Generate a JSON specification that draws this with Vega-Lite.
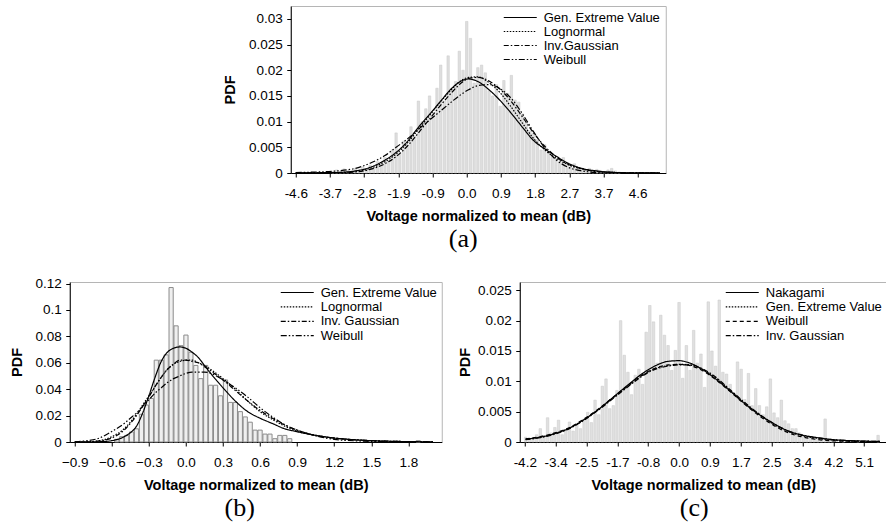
{
  "$schema": "https://vega.github.io/schema/vega-lite/v6.json",
  "background": "white",
  "padding": {"left": 8.5, "top": 5, "right": 0, "bottom": 0},
  "config": {
    "view": {"stroke": "#b5b5b5", "strokeWidth": 1},
    "font": "Liberation Sans",
    "axis": {"domainColor": "#000", "domainWidth": 1, "tickColor": "#000", "tickWidth": 1, "tickSize": 4, "labelColor": "#000", "labelFont": "Liberation Sans", "labelFontSize": 13.5, "titleFont": "Liberation Sans", "titleFontSize": 14.5, "titleFontWeight": "bold", "titleColor": "#000", "grid": false, "labelOverlap": false, "labelFlush": false, "labelBound": false, "zindex": 1},
    "axisX": {"labelPadding": 9.5, "titlePadding": 9.5},
    "axisY": {"labelPadding": 4.5, "titlePadding": 11},
    "legend": {"title": null, "orient": "top-right", "offset": 4, "padding": 0, "symbolType": "M-3.3,0H3.3", "symbolSize": 100, "symbolStrokeWidth": 1.2, "symbolStrokeColor": "#000", "symbolFillColor": "transparent", "labelFont": "Liberation Sans", "labelFontSize": 13, "labelColor": "#000", "rowPadding": 0.4, "labelOffset": 17},
    "title": {"font": "Liberation Serif", "fontSize": 26, "fontWeight": "normal", "color": "#000", "orient": "bottom", "offset": 3, "frame": "group", "anchor": "middle"}
  },
  "datasets": {
    "histA": [
      {"x":-3.6,"y":0.0003},{"x":-3.5,"y":0.0006},{"x":-3.4,"y":0.0002},{"x":-3.3,"y":0.0008},{"x":-3.2,"y":0.0005},{"x":-3.1,"y":0.0004},{"x":-3.0,"y":0.0009},{"x":-2.9,"y":0.0006},{"x":-2.8,"y":0.0012},{"x":-2.7,"y":0.0008},{"x":-2.6,"y":0.0015},{"x":-2.5,"y":0.0011},{"x":-2.4,"y":0.0022},{"x":-2.3,"y":0.0018},{"x":-2.2,"y":0.003},{"x":-2.1,"y":0.0024},{"x":-2.0,"y":0.0045},{"x":-1.9,"y":0.0078},{"x":-1.8,"y":0.004},{"x":-1.7,"y":0.0062},{"x":-1.6,"y":0.0055},{"x":-1.5,"y":0.009},{"x":-1.4,"y":0.0072},{"x":-1.3,"y":0.014},{"x":-1.2,"y":0.01},{"x":-1.1,"y":0.0125},{"x":-1.0,"y":0.015},{"x":-0.9,"y":0.0118},{"x":-0.8,"y":0.0165},{"x":-0.7,"y":0.021},{"x":-0.6,"y":0.014},{"x":-0.5,"y":0.0228},{"x":-0.4,"y":0.016},{"x":-0.3,"y":0.0178},{"x":-0.2,"y":0.0237},{"x":-0.1,"y":0.02},{"x":0.0,"y":0.0295},{"x":0.1,"y":0.0262},{"x":0.2,"y":0.0175},{"x":0.3,"y":0.0205},{"x":0.4,"y":0.021},{"x":0.5,"y":0.0195},{"x":0.6,"y":0.016},{"x":0.7,"y":0.015},{"x":0.8,"y":0.0172},{"x":0.9,"y":0.013},{"x":1.0,"y":0.018},{"x":1.1,"y":0.0155},{"x":1.2,"y":0.019},{"x":1.3,"y":0.0142},{"x":1.4,"y":0.0138},{"x":1.5,"y":0.0115},{"x":1.6,"y":0.0098},{"x":1.7,"y":0.0082},{"x":1.8,"y":0.0078},{"x":1.9,"y":0.0065},{"x":2.0,"y":0.0045},{"x":2.1,"y":0.0055},{"x":2.2,"y":0.004},{"x":2.3,"y":0.0032},{"x":2.4,"y":0.0028},{"x":2.5,"y":0.0022},{"x":2.6,"y":0.003},{"x":2.7,"y":0.0015},{"x":2.8,"y":0.0012},{"x":2.9,"y":0.0018},{"x":3.0,"y":0.001},{"x":3.1,"y":0.0008},{"x":3.2,"y":0.0006},{"x":3.3,"y":0.0009},{"x":3.4,"y":0.0004},{"x":3.5,"y":0.0007},{"x":3.6,"y":0.0005},{"x":3.7,"y":0.0003},{"x":3.8,"y":0.0006},{"x":3.9,"y":0.0009},{"x":4.0,"y":0.0004},{"x":4.1,"y":0.0002}
    ],
    "fitA": [
      {"x":-4.6,"gev":0.00002,"logn":0,"ig":0,"weib":0.0001},
      {"x":-4.0,"gev":0.00005,"logn":0.00002,"ig":0.00001,"weib":0.0002},
      {"x":-3.5,"gev":0.0001,"logn":0.00008,"ig":0.00005,"weib":0.0004},
      {"x":-3.0,"gev":0.0004,"logn":0.0003,"ig":0.0002,"weib":0.0009},
      {"x":-2.6,"gev":0.0011,"logn":0.0009,"ig":0.0007,"weib":0.0019},
      {"x":-2.2,"gev":0.0025,"logn":0.0022,"ig":0.0018,"weib":0.0034},
      {"x":-1.9,"gev":0.004,"logn":0.0037,"ig":0.0032,"weib":0.005},
      {"x":-1.6,"gev":0.0061,"logn":0.0058,"ig":0.0052,"weib":0.0066},
      {"x":-1.3,"gev":0.0089,"logn":0.0085,"ig":0.0078,"weib":0.0085},
      {"x":-1.0,"gev":0.0114,"logn":0.0112,"ig":0.0105,"weib":0.0103},
      {"x":-0.7,"gev":0.014,"logn":0.0139,"ig":0.0132,"weib":0.0121},
      {"x":-0.4,"gev":0.0165,"logn":0.0163,"ig":0.0157,"weib":0.0139},
      {"x":-0.15,"gev":0.0179,"logn":0.018,"ig":0.0175,"weib":0.0153},
      {"x":0.05,"gev":0.0183,"logn":0.0186,"ig":0.0184,"weib":0.0162},
      {"x":0.3,"gev":0.0178,"logn":0.0187,"ig":0.0186,"weib":0.017},
      {"x":0.6,"gev":0.0162,"logn":0.0176,"ig":0.0179,"weib":0.0172},
      {"x":0.9,"gev":0.0141,"logn":0.0156,"ig":0.0163,"weib":0.0164},
      {"x":1.2,"gev":0.0116,"logn":0.0128,"ig":0.0139,"weib":0.0145},
      {"x":1.5,"gev":0.0089,"logn":0.0097,"ig":0.0109,"weib":0.0115},
      {"x":1.8,"gev":0.0063,"logn":0.0067,"ig":0.0078,"weib":0.008},
      {"x":2.1,"gev":0.0047,"logn":0.0045,"ig":0.0052,"weib":0.0049},
      {"x":2.4,"gev":0.0033,"logn":0.0029,"ig":0.0032,"weib":0.0026},
      {"x":2.7,"gev":0.002,"logn":0.0017,"ig":0.0018,"weib":0.0012},
      {"x":3.1,"gev":0.0009,"logn":0.0008,"ig":0.0008,"weib":0.0004},
      {"x":3.5,"gev":0.0004,"logn":0.0003,"ig":0.0003,"weib":0.0001},
      {"x":4.0,"gev":0.0001,"logn":0.0001,"ig":0.0001,"weib":0},
      {"x":4.6,"gev":0.00003,"logn":0.00002,"ig":0.00002,"weib":0},
      {"x":5.2,"gev":0.00001,"logn":0,"ig":0,"weib":0}
    ],
    "histB": [
      {"x":-0.56,"y":0.002},{"x":-0.52,"y":0.004},{"x":-0.48,"y":0.005},{"x":-0.44,"y":0.0076},{"x":-0.4,"y":0.01},{"x":-0.36,"y":0.021},{"x":-0.32,"y":0.028},{"x":-0.28,"y":0.033},{"x":-0.24,"y":0.062},{"x":-0.2,"y":0.062},{"x":-0.16,"y":0.066},{"x":-0.12,"y":0.117},{"x":-0.08,"y":0.088},{"x":-0.04,"y":0.073},{"x":0.0,"y":0.081},{"x":0.04,"y":0.068},{"x":0.08,"y":0.058},{"x":0.12,"y":0.048},{"x":0.16,"y":0.058},{"x":0.2,"y":0.043},{"x":0.24,"y":0.043},{"x":0.28,"y":0.035},{"x":0.32,"y":0.047},{"x":0.36,"y":0.03},{"x":0.4,"y":0.03},{"x":0.44,"y":0.023},{"x":0.48,"y":0.019},{"x":0.52,"y":0.015},{"x":0.56,"y":0.009},{"x":0.6,"y":0.009},{"x":0.64,"y":0.006},{"x":0.68,"y":0.006},{"x":0.72,"y":0.0025},{"x":0.76,"y":0.005},{"x":0.8,"y":0.005},{"x":0.84,"y":0.0025},{"x":1.88,"y":0.001}
    ],
    "fitB": [
      {"x":-0.9,"gev":0,"logn":0,"ig":0,"weib":0.0002},
      {"x":-0.8,"gev":0,"logn":0.0002,"ig":0.0001,"weib":0.001},
      {"x":-0.7,"gev":0.0002,"logn":0.001,"ig":0.0008,"weib":0.003},
      {"x":-0.6,"gev":0.001,"logn":0.004,"ig":0.003,"weib":0.008},
      {"x":-0.5,"gev":0.004,"logn":0.01,"ig":0.009,"weib":0.014},
      {"x":-0.45,"gev":0.007,"logn":0.015,"ig":0.014,"weib":0.018},
      {"x":-0.4,"gev":0.012,"logn":0.021,"ig":0.02,"weib":0.022},
      {"x":-0.35,"gev":0.022,"logn":0.028,"ig":0.027,"weib":0.027},
      {"x":-0.3,"gev":0.035,"logn":0.035,"ig":0.034,"weib":0.032},
      {"x":-0.25,"gev":0.049,"logn":0.042,"ig":0.042,"weib":0.037},
      {"x":-0.2,"gev":0.061,"logn":0.049,"ig":0.049,"weib":0.041},
      {"x":-0.15,"gev":0.068,"logn":0.055,"ig":0.055,"weib":0.045},
      {"x":-0.1,"gev":0.071,"logn":0.059,"ig":0.059,"weib":0.048},
      {"x":-0.05,"gev":0.072,"logn":0.061,"ig":0.062,"weib":0.05},
      {"x":0.0,"gev":0.071,"logn":0.062,"ig":0.062,"weib":0.052},
      {"x":0.05,"gev":0.068,"logn":0.062,"ig":0.061,"weib":0.053},
      {"x":0.1,"gev":0.064,"logn":0.06,"ig":0.06,"weib":0.053},
      {"x":0.15,"gev":0.058,"logn":0.058,"ig":0.057,"weib":0.053},
      {"x":0.2,"gev":0.052,"logn":0.055,"ig":0.054,"weib":0.052},
      {"x":0.3,"gev":0.041,"logn":0.048,"ig":0.047,"weib":0.047},
      {"x":0.4,"gev":0.031,"logn":0.04,"ig":0.039,"weib":0.041},
      {"x":0.5,"gev":0.023,"logn":0.031,"ig":0.031,"weib":0.034},
      {"x":0.6,"gev":0.018,"logn":0.023,"ig":0.024,"weib":0.026},
      {"x":0.7,"gev":0.014,"logn":0.017,"ig":0.018,"weib":0.019},
      {"x":0.8,"gev":0.01,"logn":0.012,"ig":0.013,"weib":0.013},
      {"x":0.9,"gev":0.0078,"logn":0.008,"ig":0.009,"weib":0.009},
      {"x":1.0,"gev":0.0058,"logn":0.006,"ig":0.006,"weib":0.006},
      {"x":1.2,"gev":0.003,"logn":0.003,"ig":0.003,"weib":0.002},
      {"x":1.4,"gev":0.0015,"logn":0.0015,"ig":0.0015,"weib":0.0008},
      {"x":1.6,"gev":0.0007,"logn":0.0007,"ig":0.0007,"weib":0.0003},
      {"x":1.8,"gev":0.0003,"logn":0.0003,"ig":0.0003,"weib":0.0001},
      {"x":2.0,"gev":0.0001,"logn":0.0001,"ig":0.0001,"weib":0}
    ],
    "histC": [
      {"x":-4.2,"y":0.0008},{"x":-4.1,"y":0.0004},{"x":-4.0,"y":0.0006},{"x":-3.9,"y":0.0012},{"x":-3.8,"y":0.0022},{"x":-3.7,"y":0.0008},{"x":-3.6,"y":0.004},{"x":-3.5,"y":0.0015},{"x":-3.4,"y":0.0024},{"x":-3.3,"y":0.0036},{"x":-3.2,"y":0.0012},{"x":-3.1,"y":0.002},{"x":-3.0,"y":0.0033},{"x":-2.9,"y":0.0018},{"x":-2.8,"y":0.0028},{"x":-2.7,"y":0.0022},{"x":-2.6,"y":0.0038},{"x":-2.5,"y":0.0049},{"x":-2.4,"y":0.0032},{"x":-2.3,"y":0.0069},{"x":-2.2,"y":0.0045},{"x":-2.1,"y":0.0092},{"x":-2.0,"y":0.0104},{"x":-1.9,"y":0.0055},{"x":-1.8,"y":0.006},{"x":-1.7,"y":0.0085},{"x":-1.6,"y":0.02},{"x":-1.5,"y":0.0143},{"x":-1.4,"y":0.0115},{"x":-1.3,"y":0.0078},{"x":-1.2,"y":0.011},{"x":-1.1,"y":0.012},{"x":-1.0,"y":0.0095},{"x":-0.9,"y":0.0181},{"x":-0.8,"y":0.0225},{"x":-0.7,"y":0.0198},{"x":-0.6,"y":0.013},{"x":-0.5,"y":0.0209},{"x":-0.4,"y":0.0176},{"x":-0.3,"y":0.0159},{"x":-0.2,"y":0.0118},{"x":-0.1,"y":0.0151},{"x":0.0,"y":0.023},{"x":0.1,"y":0.0105},{"x":0.2,"y":0.0159},{"x":0.3,"y":0.0118},{"x":0.4,"y":0.0184},{"x":0.5,"y":0.013},{"x":0.6,"y":0.0145},{"x":0.7,"y":0.009},{"x":0.8,"y":0.0231},{"x":0.9,"y":0.015},{"x":1.0,"y":0.0125},{"x":1.1,"y":0.0234},{"x":1.2,"y":0.0115},{"x":1.3,"y":0.0112},{"x":1.4,"y":0.0095},{"x":1.5,"y":0.008},{"x":1.6,"y":0.0132},{"x":1.7,"y":0.012},{"x":1.8,"y":0.007},{"x":1.9,"y":0.0113},{"x":2.0,"y":0.006},{"x":2.1,"y":0.0088},{"x":2.2,"y":0.006},{"x":2.3,"y":0.0045},{"x":2.4,"y":0.0058},{"x":2.5,"y":0.0104},{"x":2.6,"y":0.0048},{"x":2.7,"y":0.004},{"x":2.8,"y":0.0069},{"x":2.9,"y":0.0035},{"x":3.0,"y":0.003},{"x":3.1,"y":0.0022},{"x":3.2,"y":0.0022},{"x":3.3,"y":0.0015},{"x":3.4,"y":0.0012},{"x":3.5,"y":0.001},{"x":3.6,"y":0.0008},{"x":3.7,"y":0.0006},{"x":3.8,"y":0.0004},{"x":3.9,"y":0.0005},{"x":4.0,"y":0.0038},{"x":4.1,"y":0.0003},{"x":4.2,"y":0.0002},{"x":4.5,"y":0.0003},{"x":4.9,"y":0.0002},{"x":5.45,"y":0.0011}
    ],
    "fitC": [
      {"x":-4.2,"nak":0.0005,"gev":0.0004,"weib":0.0005,"ig":0.0004},
      {"x":-3.8,"nak":0.0008,"gev":0.0008,"weib":0.0009,"ig":0.0007},
      {"x":-3.4,"nak":0.0014,"gev":0.0014,"weib":0.0015,"ig":0.0013},
      {"x":-3.0,"nak":0.0023,"gev":0.0023,"weib":0.0024,"ig":0.0022},
      {"x":-2.6,"nak":0.0037,"gev":0.0037,"weib":0.0038,"ig":0.0036},
      {"x":-2.2,"nak":0.0054,"gev":0.0054,"weib":0.0055,"ig":0.0053},
      {"x":-1.8,"nak":0.0074,"gev":0.0073,"weib":0.0074,"ig":0.0072},
      {"x":-1.4,"nak":0.0094,"gev":0.0092,"weib":0.0093,"ig":0.0091},
      {"x":-1.0,"nak":0.0113,"gev":0.011,"weib":0.0111,"ig":0.0109},
      {"x":-0.6,"nak":0.0127,"gev":0.0122,"weib":0.0123,"ig":0.0121},
      {"x":-0.3,"nak":0.0133,"gev":0.0126,"weib":0.0127,"ig":0.0125},
      {"x":0.0,"nak":0.0134,"gev":0.0128,"weib":0.0128,"ig":0.0127},
      {"x":0.3,"nak":0.013,"gev":0.0127,"weib":0.0126,"ig":0.0127},
      {"x":0.6,"nak":0.0121,"gev":0.0121,"weib":0.0119,"ig":0.0122},
      {"x":1.0,"nak":0.0104,"gev":0.0106,"weib":0.0103,"ig":0.0107},
      {"x":1.4,"nak":0.0084,"gev":0.0085,"weib":0.0083,"ig":0.0086},
      {"x":1.8,"nak":0.0063,"gev":0.0064,"weib":0.0062,"ig":0.0065},
      {"x":2.2,"nak":0.0045,"gev":0.0045,"weib":0.0043,"ig":0.0046},
      {"x":2.6,"nak":0.003,"gev":0.0029,"weib":0.0027,"ig":0.003},
      {"x":3.0,"nak":0.0018,"gev":0.0017,"weib":0.0015,"ig":0.0018},
      {"x":3.4,"nak":0.0011,"gev":0.001,"weib":0.0008,"ig":0.0011},
      {"x":3.8,"nak":0.0007,"gev":0.0006,"weib":0.0004,"ig":0.0007},
      {"x":4.2,"nak":0.0004,"gev":0.0003,"weib":0.0002,"ig":0.0004},
      {"x":4.8,"nak":0.0002,"gev":0.0001,"weib":0.0001,"ig":0.0002},
      {"x":5.5,"nak":0.0001,"gev":0.00005,"weib":0,"ig":0.0001}
    ]
  },
  "spacing": 23,
  "center": true,
  "resolve": {"scale": {"x": "independent", "y": "independent", "strokeDash": "independent"}, "legend": {"strokeDash": "independent"}},
  "vconcat": [
    {
      "width": 375,
      "height": 167,
      "title": {"text": "(a)", "dx": -15},
      "encoding": {
        "x": {"field": "x", "type": "quantitative", "title": "Voltage normalized to mean (dB)", "scale": {"domain": [-4.6, 5.22], "nice": false, "zero": false}, "axis": {"values": [-4.6, -3.68, -2.76, -1.84, -0.92, 0, 0.92, 1.84, 2.76, 3.68, 4.6], "labelExpr": "['-4.6','-3.7','-2.8','-1.9','-0.9','0.0','0.9','1.8','2.7','3.7','4.6'][round(datum.value/0.92)+5]"}},
        "y": {"field": "y", "type": "quantitative", "title": "PDF", "scale": {"domain": [0, 0.0325], "nice": false}, "axis": {"values": [0, 0.005, 0.01, 0.015, 0.02, 0.025, 0.03], "format": "~g", "titlePadding": 11}}
      },
      "layer": [
        {"data": {"name": "histA"}, "mark": {"type": "bar", "width": 2.4, "fill": "#dedede", "stroke": "#c8c8c8", "strokeWidth": 0.5}},
        {
          "data": {"name": "fitA"},
          "transform": [{"fold": ["gev", "logn", "ig", "weib"], "as": ["dist", "y"]}],
          "mark": {"type": "line", "stroke": "#000", "strokeWidth": 1.2, "interpolate": "monotone", "clip": true},
          "encoding": {
            "strokeDash": {"field": "dist", "type": "nominal", "scale": {"domain": ["gev", "logn", "ig", "weib"], "range": [[1, 0], [1.5, 1.5], [5, 2, 1.5, 2], [6, 2, 1.5, 2, 1.5, 2]]}, "legend": {"rowPadding": -0.7, "offset": 5, "labelExpr": "datum.label == 'gev' ? 'Gen. Extreme Value' : datum.label == 'logn' ? 'Lognormal' : datum.label == 'ig' ? 'Inv.Gaussian' : 'Weibull'"}}
          }
        }
      ]
    },
    {
      "hconcat": [
        {
          "width": 372,
          "height": 160,
          "title": {"text": "(b)", "dx": -16},
          "encoding": {
            "x": {"field": "x", "type": "quantitative", "title": "Voltage normalized to mean (dB)", "scale": {"domain": [-0.9, 2.03], "nice": false, "zero": false}, "axis": {"values": [-0.9, -0.6, -0.3, 0, 0.3, 0.6, 0.9, 1.2, 1.5, 1.8], "format": ".1f"}},
            "y": {"field": "y", "type": "quantitative", "title": "PDF", "scale": {"domain": [0, 0.1212], "nice": false}, "axis": {"values": [0, 0.02, 0.04, 0.06, 0.08, 0.1, 0.12], "format": "~g", "titlePadding": 10.5}}
          },
          "layer": [
            {"data": {"name": "histB"}, "mark": {"type": "bar", "width": 4.2, "fill": "#efefef", "stroke": "#8c8c8c", "strokeWidth": 1}},
            {
              "data": {"name": "fitB"},
              "transform": [{"fold": ["gev", "logn", "ig", "weib"], "as": ["dist", "y"]}],
              "mark": {"type": "line", "stroke": "#000", "strokeWidth": 1.2, "interpolate": "monotone", "clip": true},
              "encoding": {
                "strokeDash": {"field": "dist", "type": "nominal", "scale": {"domain": ["gev", "logn", "ig", "weib"], "range": [[1, 0], [1.5, 1.5], [5, 2, 1.5, 2], [6, 2, 1.5, 2, 1.5, 2]]}, "legend": {"labelExpr": "datum.label == 'gev' ? 'Gen. Extreme Value' : datum.label == 'logn' ? 'Lognormal' : datum.label == 'ig' ? 'Inv. Gaussian' : 'Weibull'"}}
              }
            }
          ]
        },
        {
          "width": 367,
          "height": 160,
          "title": {"text": "(c)", "dx": -9},
          "encoding": {
            "x": {"field": "x", "type": "quantitative", "title": "Voltage normalized to mean (dB)", "scale": {"domain": [-4.225, 5.55], "nice": false, "zero": false}, "axis": {"values": [-4.225, -3.38, -2.535, -1.69, -0.845, 0, 0.845, 1.69, 2.535, 3.38, 4.225, 5.07], "labelExpr": "['-4.2','-3.4','-2.5','-1.7','-0.8','0.0','0.9','1.7','2.5','3.4','4.2','5.1'][round(datum.value/0.845)+5]"}},
            "y": {"field": "y", "type": "quantitative", "title": "PDF", "scale": {"domain": [0, 0.02637], "nice": false}, "axis": {"values": [0, 0.005, 0.01, 0.015, 0.02, 0.025], "format": "~g", "titlePadding": 5}}
          },
          "layer": [
            {"data": {"name": "histC"}, "mark": {"type": "bar", "width": 2.5, "fill": "#e0e0e0", "stroke": "#c8c8c8", "strokeWidth": 0.5}},
            {
              "data": {"name": "fitC"},
              "transform": [{"fold": ["nak", "gev", "weib", "ig"], "as": ["dist", "y"]}],
              "mark": {"type": "line", "stroke": "#000", "strokeWidth": 1.2, "interpolate": "monotone", "clip": true},
              "encoding": {
                "strokeDash": {"field": "dist", "type": "nominal", "scale": {"domain": ["nak", "gev", "weib", "ig"], "range": [[1, 0], [1.5, 1.5], [4, 3], [5, 2, 1.5, 2]]}, "legend": {"labelExpr": "datum.label == 'nak' ? 'Nakagami' : datum.label == 'gev' ? 'Gen. Extreme Value' : datum.label == 'weib' ? 'Weibull' : 'Inv. Gaussian'"}}
              }
            }
          ]
        }
      ],
      "bounds": "flush",
      "spacing": 78,
      "resolve": {"scale": {"x": "independent", "y": "independent", "strokeDash": "independent"}, "legend": {"strokeDash": "independent"}}
    }
  ]
}
